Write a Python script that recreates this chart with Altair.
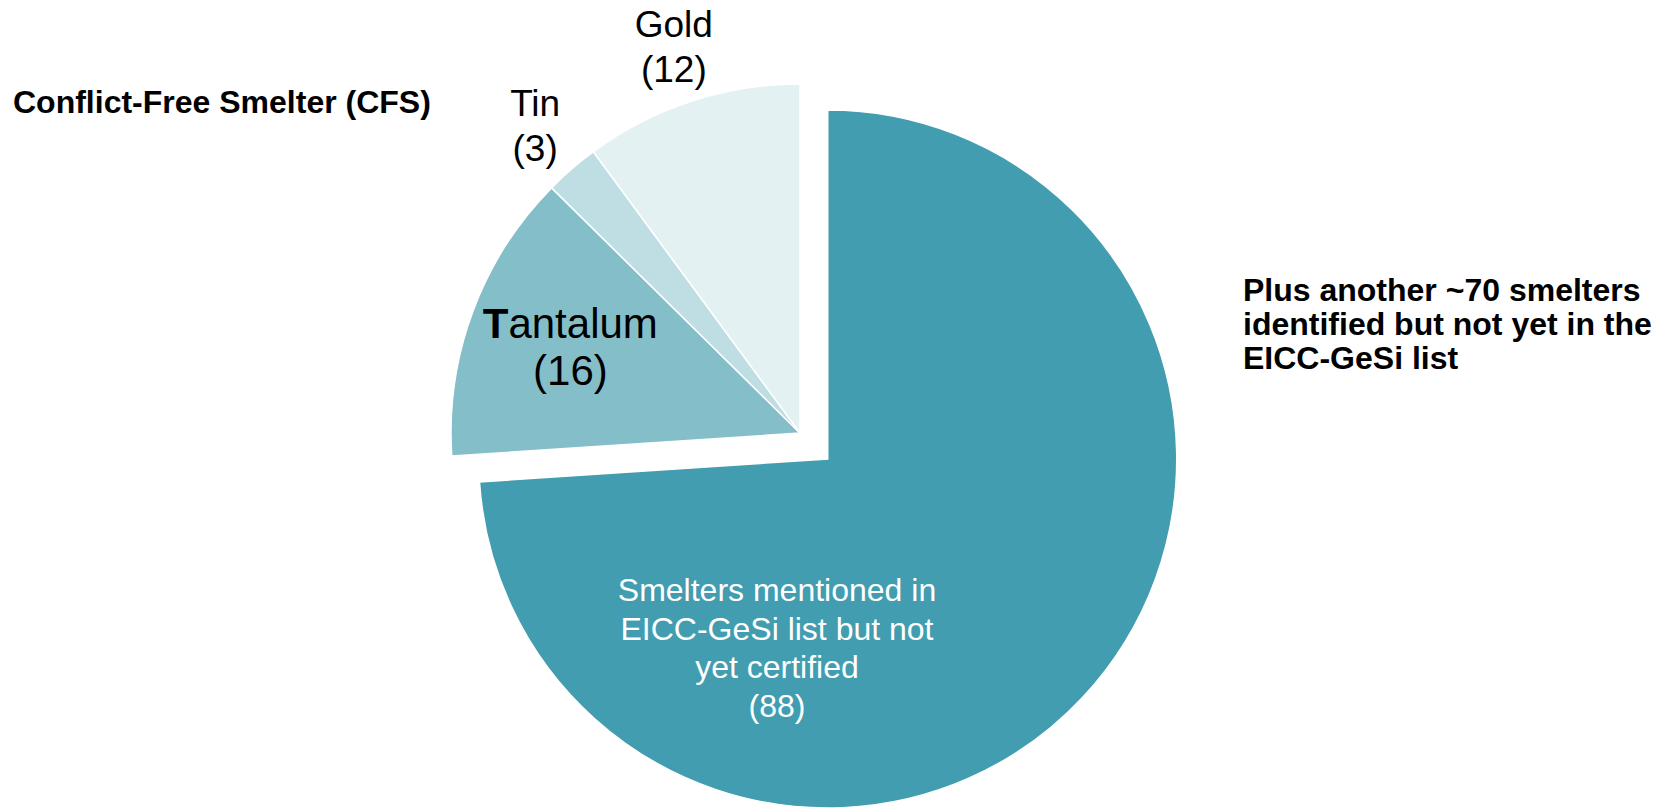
import math

import altair as alt
import pandas as pd

# Smelter counts by status / metal
names = [
    "Smelters mentioned in\nEICC-GeSi list but not\nyet certified",
    "Tantalum",
    "Tin",
    "Gold",
]
counts = [88, 16, 3, 12]
groups = ["pending", "cfs", "cfs", "cfs"]
fills = ["#419DAF", "#84BFC9", "#BFDEE3", "#E3F1F3"]

left_title = "Conflict-Free Smelter (CFS)"
side_note = ["Plus another ~70 smelters", "identified but not yet in the", "EICC-GeSi list"]

W, H = 1669, 812
CX, CY = 800, 433          # pie centre
R = 349                    # pie radius
EXPLODE = 38               # pull-out of the pending slice
FONT = "Liberation Sans"

df = pd.DataFrame({
    "name": names,
    "count": counts,
    "group": groups,
    "order": list(range(len(names))),
})

total = sum(counts)
half_sweep = math.pi * counts[0] / total
bx = CX + EXPLODE * math.sin(half_sweep)
by = CY - EXPLODE * math.cos(half_sweep)

theta_scale = alt.Scale(domain=[0, total], range=[0, 2 * math.pi])
color = alt.Color("name:N", scale=alt.Scale(domain=names, range=fills), legend=None)

base = alt.Chart(df).transform_window(
    end="sum(count)", sort=[alt.SortField("order")], frame=[None, 0]
).transform_calculate(
    start="datum.end - datum.count",
    mid="datum.end - datum.count / 2",
    label="datum.name + '\\n(' + datum.count + ')'",
    head="substring(datum.name, 0, 1)",
    tail="substring(datum.name, 1)",
    val="'(' + datum.count + ')'",
)

pending_arc = base.transform_filter(alt.datum.group == "pending").mark_arc(
    radius=R, stroke="white", strokeWidth=1.5
).encode(
    theta=alt.Theta("start:Q", scale=theta_scale),
    theta2="end:Q",
    color=color,
    x=alt.value(bx),
    y=alt.value(by),
)

cfs_arcs = base.transform_filter(alt.datum.group == "cfs").mark_arc(
    radius=R, stroke="white", strokeWidth=1.5
).encode(
    theta=alt.Theta("start:Q", scale=theta_scale),
    theta2="end:Q",
    color=color,
    x=alt.value(CX),
    y=alt.value(CY),
)

# two-line labels above the small slices (first line sits at the anchor)
outer_labels = base.transform_filter(
    alt.FieldOneOfPredicate(field="name", oneOf=["Tin", "Gold"])
).mark_text(
    radius=405, dy=-22, fontSize=37, lineHeight=45, lineBreak="\n", color="black"
).encode(
    theta=alt.Theta("mid:Q", scale=theta_scale),
    text="label:N",
    x=alt.value(CX),
    y=alt.value(CY),
)

# Tantalum label with a bold initial
ta = base.transform_filter(alt.datum.name == "Tantalum")
ta_polar = dict(
    theta=alt.Theta("mid:Q", scale=theta_scale),
    x=alt.value(CX),
    y=alt.value(CY),
)
ta_head = ta.mark_text(
    radius=245, fontSize=42, fontWeight="bold", align="right", dx=-62, dy=-23, color="black"
).encode(text="head:N", **ta_polar)
ta_tail = ta.mark_text(
    radius=245, fontSize=42, align="left", dx=-62, dy=-23, color="black"
).encode(text="tail:N", **ta_polar)
ta_val = ta.mark_text(
    radius=245, fontSize=42, dy=24, color="black"
).encode(text="val:N", **ta_polar)

pending_label = base.transform_filter(alt.datum.group == "pending").mark_text(
    fontSize=32, lineHeight=38.5, lineBreak="\n", color="white"
).encode(
    text="label:N",
    x=alt.value(777),
    y=alt.value(591),
)

title_text = alt.Chart(pd.DataFrame({"t": [left_title]})).mark_text(
    align="left", fontSize=32, fontWeight="bold", color="black"
).encode(text="t:N", x=alt.value(13), y=alt.value(103))

note_text = alt.Chart(pd.DataFrame({"t": ["\n".join(side_note)]})).mark_text(
    align="left", fontSize=32, fontWeight="bold", lineHeight=34, lineBreak="\n", color="black"
).encode(text="t:N", x=alt.value(1243), y=alt.value(291))

chart = alt.layer(
    pending_arc, cfs_arcs, outer_labels, ta_head, ta_tail, ta_val,
    pending_label, title_text, note_text,
).properties(
    width=W,
    height=H,
    padding=0,
    autosize=alt.AutoSizeParams(type="none"),
    background="white",
).configure_view(stroke=None).configure_text(font=FONT)

chart.save("out.html", embed_options={"renderer": "svg", "actions": False})
